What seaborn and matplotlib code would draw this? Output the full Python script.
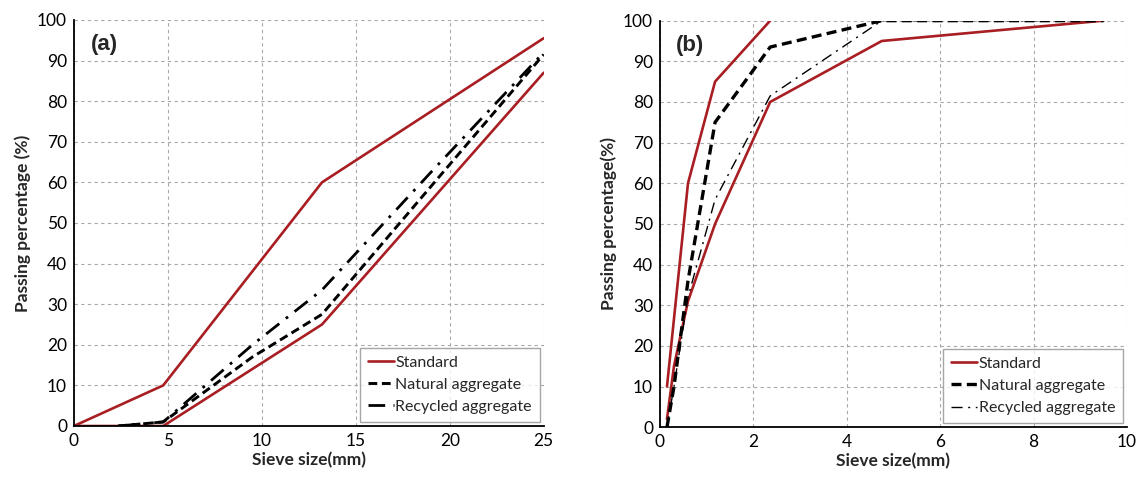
import numpy as np
import pandas as pd
import seaborn as sns
import matplotlib.pyplot as plt

# panel (a) - coarse aggregate
a_std_hi_x = [0, 4.75, 13.2, 25]
a_std_hi_y = [0, 10, 60, 95.5]
a_std_lo_x = [0, 4.75, 13.2, 25]
a_std_lo_y = [0, 0, 25, 87]
a_nat_x = [2.36, 4.75, 9.5, 13.2, 19, 25]
a_nat_y = [0, 1, 17, 27.5, 59, 91.5]
a_rec_x = [2.36, 4.75, 9.5, 13.2, 19, 25]
a_rec_y = [0, 1, 20, 33.5, 62.5, 92]

# panel (b) - fine aggregate
b_std_hi_x = [0.15, 0.6, 1.18, 2.36]
b_std_hi_y = [10, 60, 85, 100]
b_std_lo_x = [0.15, 0.3, 0.6, 1.18, 2.36, 4.75, 9.5]
b_std_lo_y = [2, 15, 31, 50, 80, 95, 100]
b_nat_x = [0.15, 0.3, 0.6, 1.18, 2.36, 4.75, 9.5]
b_nat_y = [0, 10, 36, 75, 93.5, 100, 100]
b_rec_x = [0.15, 0.3, 0.6, 1.18, 2.36, 4.75, 9.5]
b_rec_y = [0, 10, 32, 56, 81.5, 100, 100]

red = '#a81e23'

sns.set_style("white")
plt.rcParams['font.family'] = ['Lato', 'DejaVu Sans']

fig = plt.figure(figsize=(11.43, 4.8), dpi=100)
ax1 = fig.add_axes([0.0647, 0.1125, 0.411, 0.846])
ax2 = fig.add_axes([0.5774, 0.11, 0.4086, 0.847])

def draw(ax, hi, lo, nat, rec, rec_lw, nat_lw):
    sns.lineplot(x=hi[0], y=hi[1], ax=ax, color=red, lw=1.9, label='Standard')
    sns.lineplot(x=lo[0], y=lo[1], ax=ax, color=red, lw=1.9)
    sns.lineplot(x=nat[0], y=nat[1], ax=ax, color='black', lw=nat_lw,
                 label='Natural aggregate').lines[-1].set_dashes((3, 1.6))
    ln = sns.lineplot(x=rec[0], y=rec[1], ax=ax, color='black', lw=rec_lw,
                      label='Recycled aggregate').lines[-1]
    ln.set_dashes((6, 3, 1, 3) if rec_lw > 1.5 else (8, 4, 1.5, 4))

draw(ax1, (a_std_hi_x, a_std_hi_y), (a_std_lo_x, a_std_lo_y),
     (a_nat_x, a_nat_y), (a_rec_x, a_rec_y), 2.0, 2.1)
draw(ax2, (b_std_hi_x, b_std_hi_y), (b_std_lo_x, b_std_lo_y),
     (b_nat_x, b_nat_y), (b_rec_x, b_rec_y), 1.0, 2.4)

for ax, xmax, xstep, tag, ylab in [(ax1, 25, 5, '(a)', 'Passing percentage (%)'),
                                  (ax2, 10, 2, '(b)', 'Passing percentage(%)')]:
    ax.set_xlim(0, xmax)
    ax.set_ylim(0, 100)
    ax.set_xticks(np.arange(0, xmax + 0.1, xstep))
    ax.set_yticks(np.arange(0, 101, 10))
    ax.grid(True, color='#a8a8a8', linestyle=(0, (3, 3)), lw=0.8)
    for s in ['top', 'right']:
        ax.spines[s].set_visible(False)
    for s in ['left', 'bottom']:
        ax.spines[s].set_color('black')
        ax.spines[s].set_linewidth(1.3)
    ax.tick_params(direction='in', length=4, width=1.2, labelsize=12.5, colors='black', pad=5)
    ax.set_xlabel('Sieve size(mm)', fontsize=12.5, fontweight='bold', labelpad=2)
    ax.set_ylabel(ylab, fontsize=12.5, fontweight='bold', labelpad=4)
    ax.text(0.035, 0.965, tag, transform=ax.transAxes, fontsize=16,
            fontweight='bold', va='top', ha='left', family='Liberation Sans')
    leg = ax.legend(loc='lower right', fontsize=11.5, frameon=True, fancybox=False,
                    edgecolor='#909090', handlelength=1.6, handletextpad=0.1,
                    borderaxespad=0.25, labelspacing=0.5, borderpad=0.5)
    leg.get_frame().set_linewidth(1.0)

fig.savefig('out.png', dpi=100)
